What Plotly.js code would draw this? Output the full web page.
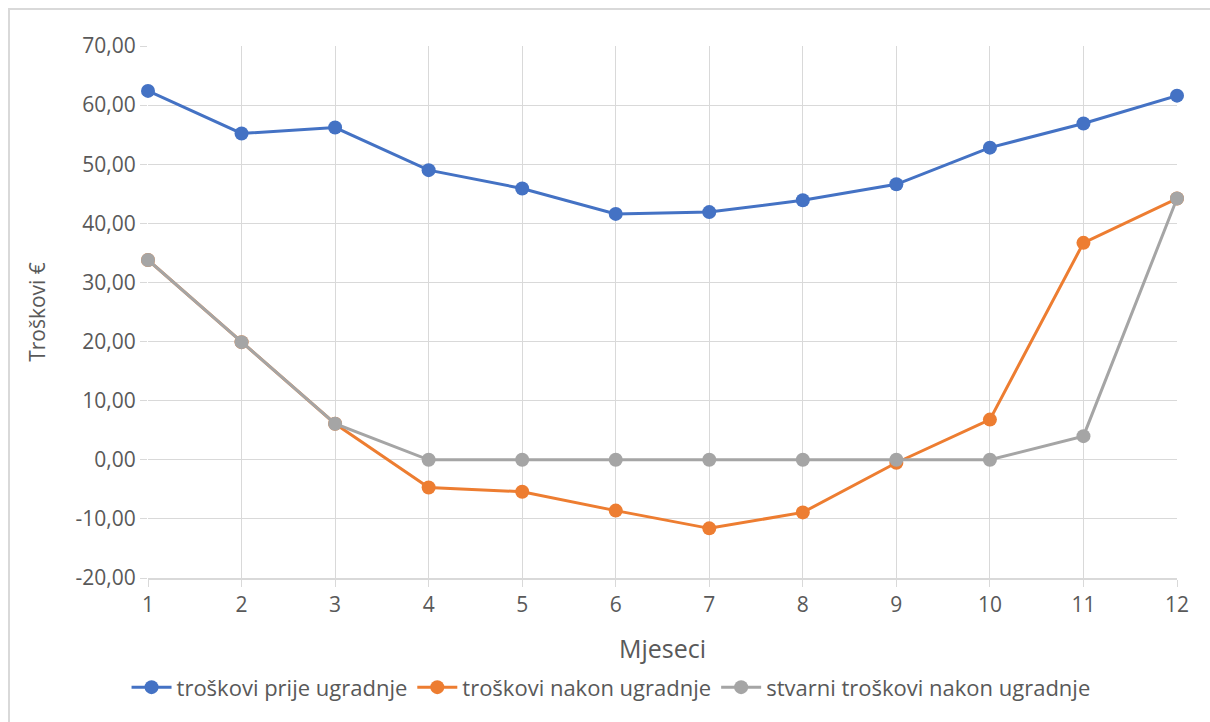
<!DOCTYPE html>
<html>
<head>
<meta charset="utf-8">
<script src="https://cdn.plot.ly/plotly-3.0.1.min.js"></script>
<style>
html,body{margin:0;padding:0;background:#fff;}
#chart{width:1210px;height:722px;position:relative;}
#frame{position:absolute;left:8px;top:8px;width:1210px;height:730px;border-left:2px solid #d9d9d9;border-top:2px solid #d9d9d9;pointer-events:none;}
</style>
</head>
<body>
<div id="chart"></div>
<div id="frame"></div>
<script>
const months = [1,2,3,4,5,6,7,8,9,10,11,12];
const prije = [62.4,55.2,56.2,49.0,45.9,41.6,41.9,43.9,46.6,52.8,56.9,61.6];
const nakon = [33.8,19.9,6.1,-4.7,-5.4,-8.6,-11.6,-8.9,-0.5,6.8,36.7,44.2];
const stvarni = [33.8,19.9,6.1,0,0,0,0,0,0,0,4.0,44.2];
const yTickVals = [-20,-10,0,10,20,30,40,50,60,70];
const yTickText = ["-20,00","-10,00","0,00","10,00","20,00","30,00","40,00","50,00","60,00","70,00"];
const names = ["troškovi prije ugradnje","troškovi nakon ugradnje","stvarni troškovi nakon ugradnje"];
const colors = ["#4472c4","#ed7d31","#a5a5a5"];
const series = [prije, nakon, stvarni];

const font = "'Open Sans', sans-serif";
const traces = series.map((s,i)=>({
  x: months, y: s, name: names[i], type:'scatter', mode:'lines+markers',
  line:{color:colors[i], width:3},
  marker:{color:colors[i], size:14},
  cliponaxis:false
}));

const layout = {
  width:1210, height:722,
  margin:{l:148, r:33, t:46, b:144, autoexpand:false},
  paper_bgcolor:'#fff', plot_bgcolor:'#fff',
  font:{family:font, color:'#595959', size:20},
  showlegend:true,
  legend:{orientation:'h', xref:'container', x:0.505, xanchor:'center', yref:'container', y:0.048, yanchor:'middle', font:{size:22, color:'#595959'}, itemwidth:40},
  xaxis:{
    range:[1,12], tickmode:'array', tickvals:months, ticktext:months.map(String),
    showgrid:true, gridcolor:'#d9d9d9', gridwidth:1,
    ticks:'outside', ticklen:7, tickcolor:'#d9d9d9',
    showline:true, linecolor:'#d9d9d9', linewidth:1.5,
    zeroline:false,
    tickfont:{size:21, color:'#595959'},
    title:{text:'Mjeseci', font:{size:25, color:'#595959'}, standoff:24}
  },
  yaxis:{
    range:[-20,70], tickmode:'array', tickvals:yTickVals, ticktext:yTickText,
    showgrid:true, gridcolor:'#d9d9d9', gridwidth:1,
    ticks:'outside', ticklen:7, tickcolor:'#d9d9d9',
    showline:false, zeroline:false,
    tickfont:{size:21, color:'#595959'},
    title:{text:'Troškovi €', font:{size:21, color:'#595959'}, standoff:24}
  }
};
Plotly.newPlot('chart', traces, layout, {displayModeBar:false, staticPlot:true});
</script>
</body>
</html>
